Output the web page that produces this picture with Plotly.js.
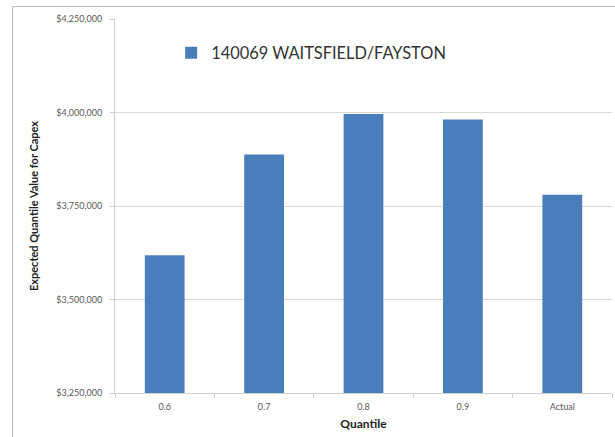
<!DOCTYPE html>
<html>
<head>
<meta charset="utf-8">
<script src="https://cdn.plot.ly/plotly-3.0.1.min.js"></script>
<style>
  html, body { margin: 0; padding: 0; background: #fff; }
  #wrap { position: relative; width: 615px; height: 437px; }
  #frame { position: absolute; left: 12px; top: 6px; right: 0; bottom: 0;
           border-left: 1px solid #bdbdbd; border-top: 1px solid #bdbdbd; pointer-events: none; }
  #chart { position: absolute; left: 0; top: 0; width: 615px; height: 437px; }
</style>
</head>
<body>
<div id="wrap">
  <div id="chart"></div>
  <div id="frame"></div>
</div>
<script>
// Expected capex value per quantile for one district
const quantiles = ["0.6", "0.7", "0.8", "0.9", "Actual"];
const capexValues = [3618000, 3888000, 3996000, 3981000, 3780000];
const seriesName = "140069 WAITSFIELD/FAYSTON";
const yTickValues = [3250000, 3500000, 3750000, 4000000, 4250000];
const yTickLabels = ["$3,250,000", "$3,500,000", "$3,750,000", "$4,000,000", "$4,250,000"];

const trace = {
  type: "bar",
  x: quantiles,
  y: capexValues,
  name: seriesName,
  marker: { color: "#4a7ebb" },
  showlegend: true
};

const layout = {
  width: 615,
  height: 437,
  margin: { l: 115, r: 3, t: 19, b: 44 },
  paper_bgcolor: "#ffffff",
  plot_bgcolor: "#ffffff",
  bargap: 0.6,
  font: { family: "Lato, 'Open Sans', sans-serif", color: "#595959" },
  showlegend: true,
  legend: {
    x: 0.113, y: 0.909, xanchor: "left", yanchor: "middle",
    bgcolor: "rgba(0,0,0,0)",
    font: { size: 16.4, color: "#333333", family: "Lato, sans-serif" },
    itemwidth: 30
  },
  xaxis: {
    type: "category",
    tickson: "boundaries",
    ticks: "outside",
    ticklen: 4,
    tickcolor: "#d0d0d0",
    ticklabelstandoff: 5,
    showline: true,
    linecolor: "#d0d0d0",
    showgrid: false,
    tickfont: { size: 9, color: "#595959" },
    title: { text: "Quantile", font: { size: 12, color: "#222222", family: "Lato, sans-serif", weight: "bold" }, standoff: 8 }
  },
  yaxis: {
    range: [3250000, 4250000],
    tickvals: yTickValues,
    ticktext: yTickLabels,
    ticks: "outside",
    ticklen: 4,
    tickcolor: "#d0d0d0",
    ticklabelstandoff: 6,
    showline: true,
    linecolor: "#d0d0d0",
    showgrid: true,
    gridcolor: "#d9d9d9",
    zeroline: false,
    tickfont: { size: 9, color: "#595959" },
    title: { text: "Expected Quantile Value for Capex", font: { size: 11, color: "#222222", family: "Lato, sans-serif", weight: "bold" }, standoff: 15 }
  }
};

Plotly.newPlot("chart", [trace], layout, { displayModeBar: false, staticPlot: true });
</script>
</body>
</html>
